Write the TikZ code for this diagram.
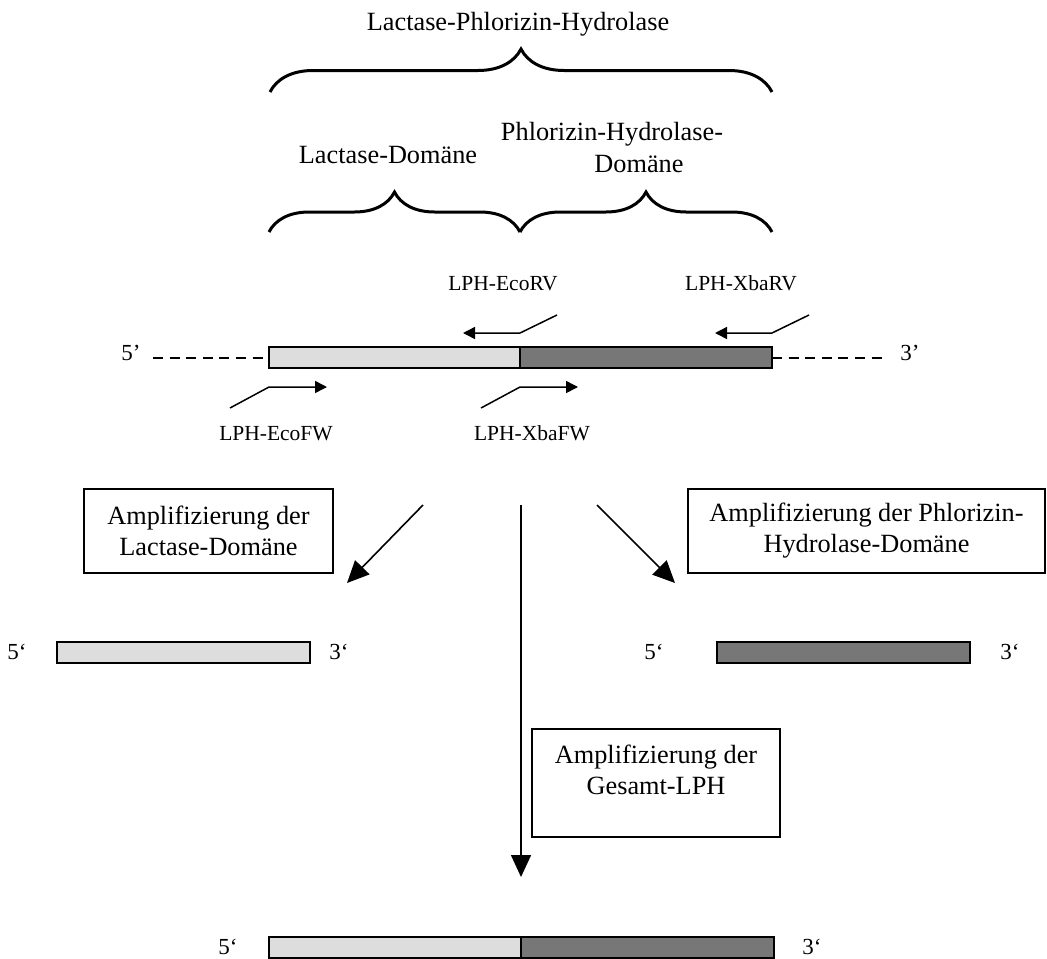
\documentclass[tikz,border=0pt]{standalone}
\usepackage{fontspec}
\setmainfont{Liberation Serif}
\usetikzlibrary{arrows.meta,decorations.pathreplacing,positioning}

\begin{document}
\begin{tikzpicture}[x=0.5pt, y=-0.5pt, >={Triangle[length=11pt,width=10pt]},
		font=\fontsize{13.15}{15.5}\selectfont,
		lacbar/.style={draw, line width=1pt, fill=lacgrey, minimum height=10.5pt, inner sep=0pt, outer sep=0pt, anchor=north west},
		phbar/.style={lacbar, fill=phgrey},
		endlab/.style={inner sep=0pt, anchor=base, font=\fontsize{11.5}{13}\selectfont},
		primerlab/.style={inner sep=0pt, anchor=base, font=\fontsize{10.75}{13}\selectfont},
		primer/.style={line width=0.75pt, -{Triangle[length=6pt,width=6pt]}},
		dnaline/.style={line width=1pt, dash pattern=on 5pt off 3.3pt},
		domainbrace/.style={decorate, line width=1.5pt, decoration={brace, amplitude=#1}},
		ampbox/.style={draw, line width=1pt, align=center, inner sep=0pt},
		amparrow/.style={->, line width=0.8pt}]
		\definecolor{lacgrey}{RGB}{221,221,221}
		\definecolor{phgrey}{RGB}{119,119,119}
		\useasboundingbox (0,0) rectangle (1047,958);
		
		% Gesamtprotein und Domaenen
		\node[anchor=base, inner sep=0pt] (lphname) at (518,30) {Lactase-Phlorizin-Hydrolase};
		\draw[domainbrace=21.5pt] (270,92) -- (772,92);
		\node[anchor=base, inner sep=0pt] (lacname) at (388,163) {Lactase-Domäne};
		\node[anchor=base, inner sep=0pt] (phname) at (612,140) {Phlorizin-Hydrolase-};
		\node[anchor=base, inner sep=0pt] (phname2) at (639,172) {Domäne};
		\draw[domainbrace=20pt] (269,232) -- (520,232);
		\draw[domainbrace=20pt] (520,232) -- (772,232);
		
		% cDNA mit Primern
		\node[lacbar, minimum width=125.5pt] (lac) at (269,347) {};
		\node[phbar, minimum width=126pt] (ph) at (lac.north east) {};
		\node[endlab] (fivetop) at (131,360) {5’};
		\node[endlab] (threetop) at (910,360) {3’};
		\coordinate (dashL) at (153,357.5);
		\coordinate (dashR) at (887,357.5);
		\draw[dnaline] (dashL) -- (lac.west);
		\draw[dnaline] (ph.east) -- (dashR);
		
		\node[primerlab] (ecorvlab) at (503,290) {LPH-EcoRV};
		\node[primerlab] (xbarvlab) at (741,290) {LPH-XbaRV};
		\node[primerlab] (ecofwlab) at (276,440) {LPH-EcoFW};
		\node[primerlab] (xbafwlab) at (532,440) {LPH-XbaFW};
		\coordinate (ecorv) at (520,333);
		\coordinate (xbarv) at (772,333);
		\coordinate (ecofw) at (269,387);
		\coordinate (xbafw) at (520,387);
		\draw[primer] ([shift={(37,-18)}]ecorv) -- (ecorv) -- ++(-57,0);
		\draw[primer] ([shift={(37,-18)}]xbarv) -- (xbarv) -- ++(-57,0);
		\draw[primer] ([shift={(-39,21)}]ecofw) -- (ecofw) -- ++(58,0);
		\draw[primer] ([shift={(-39,21)}]xbafw) -- (xbafw) -- ++(58,0);
		
		% Amplifikation
		\coordinate (forkL) at (423,505);
		\coordinate (forkM) at (521,505);
		\coordinate (forkR) at (597,505);
		\coordinate (tipL) at (347,583);
		\coordinate (tipM) at (521,877);
		\coordinate (tipR) at (675,583);
		\draw[amparrow] (forkL) -- (tipL);
		\draw[amparrow] (forkM) -- (tipM);
		\draw[amparrow] (forkR) -- (tipR);
		\node[ampbox, minimum width=124.5pt, minimum height=42pt] (lacbox) at (208.5,531) {Amplifizierung der\\Lactase-Domäne};
		\node[ampbox, minimum width=178.5pt, minimum height=42pt] (phbox) at (866.5,531) {Amplifizierung der Phlorizin-\\Hydrolase-Domäne};
		\node[ampbox, anchor=north, inner ysep=8pt] (gesbox) at (656,728) {\parbox[t][38pt][t]{124pt}{\centering Amplifizierung der\\Gesamt-LPH}};
		
		% Produkte
		\node[lacbar, minimum width=126.5pt] (lacprod) at (57,642) {};
		\node[endlab] (fivelac) at (17,659) {5‘};
		\node[endlab] (threelac) at (339,659) {3‘};
		\node[phbar, minimum width=126.5pt] (phprod) at (717,642) {};
		\node[endlab] (fiveph) at (654,659) {5‘};
		\node[endlab] (threeph) at (1010,659) {3‘};
		\node[lacbar, minimum width=126pt] (fulllac) at (269,937) {};
		\node[phbar, minimum width=126.5pt] (fullph) at (fulllac.north east) {};
		\node[endlab] (fivefull) at (228,954) {5‘};
		\node[endlab] (threefull) at (812,954) {3‘};
	\end{tikzpicture}
\end{document}
